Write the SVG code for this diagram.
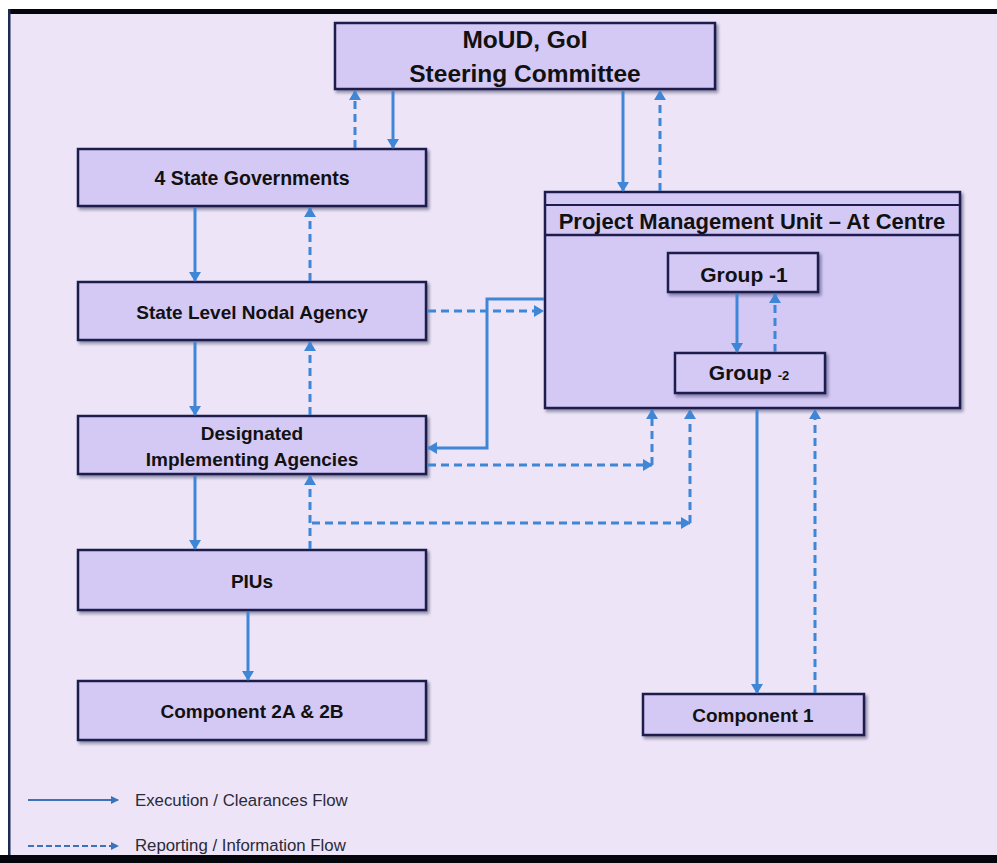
<svg xmlns="http://www.w3.org/2000/svg" width="997" height="863" viewBox="0 0 997 863">
<defs>
  <marker id="ah" markerUnits="userSpaceOnUse" markerWidth="10" markerHeight="12" refX="9" refY="6" orient="auto">
    <path d="M0,0 L10,6 L0,12 z" fill="#3F86D6"/>
  </marker>
  <marker id="ahs" markerUnits="userSpaceOnUse" markerWidth="8" markerHeight="8" refX="7" refY="4" orient="auto">
    <path d="M0,0 L8,4 L0,8 z" fill="#3B72B8"/>
  </marker>
  <filter id="sh" x="-5%" y="-10%" width="115%" height="130%">
    <feDropShadow dx="2" dy="2.5" stdDeviation="1.5" flood-color="#1a1440" flood-opacity="0.45"/>
  </filter>
</defs>
<style>
  .box { fill: #D4C9F5; stroke: #1E1C4E; stroke-width: 2.5; filter: url(#sh); }
  .t { font-family: "Liberation Sans", Arial, sans-serif; font-weight: bold; fill: #111; text-anchor: middle; }
  .s { stroke: #3F86D6; stroke-width: 3; fill: none; }
  .d { stroke: #3F86D6; stroke-width: 3; fill: none; stroke-dasharray: 8 5; }
  .lg { font-family: "Liberation Sans", Arial, sans-serif; font-size: 16.8px; fill: #2a2a3a; }
</style>
<rect x="0" y="0" width="997" height="863" fill="#EDE5F7"/>
<rect x="0" y="0" width="997" height="9" fill="#ffffff"/>
<rect x="0" y="0" width="8" height="863" fill="#ffffff"/>
<rect x="8" y="9" width="989" height="5" fill="#05060c"/>
<rect x="8" y="9" width="2.5" height="850" fill="#1a2a50"/>
<rect x="0" y="855" width="997" height="8" fill="#05060c"/>

<g id="moud">
  <rect class="box" x="335" y="23" width="380" height="66"/>
  <text class="t" x="525" y="48" font-size="24.5">MoUD, GoI</text>
  <text class="t" x="525" y="82" font-size="24.5">Steering Committee</text>
</g>
<g id="state-governments">
  <rect class="box" x="78" y="149" width="348" height="57"/>
  <text class="t" x="252" y="185" font-size="19.5">4 State Governments</text>
</g>
<g id="slna">
  <rect class="box" x="78" y="282" width="348" height="58"/>
  <text class="t" x="252" y="319" font-size="19">State Level Nodal Agency</text>
</g>
<g id="dia">
  <rect class="box" x="78" y="416" width="348" height="58"/>
  <text class="t" x="252" y="440" font-size="19">Designated</text>
  <text class="t" x="252" y="466" font-size="19">Implementing Agencies</text>
</g>
<g id="pius">
  <rect class="box" x="78" y="550" width="348" height="60"/>
  <text class="t" x="252" y="588" font-size="19">PIUs</text>
</g>
<g id="component-2">
  <rect class="box" x="78" y="681" width="348" height="59"/>
  <text class="t" x="252" y="718" font-size="19">Component 2A &amp; 2B</text>
</g>
<g id="pmu">
  <rect class="box" x="545" y="192" width="415" height="216"/>
  <line x1="545" y1="205" x2="960" y2="205" stroke="#1E1C4E" stroke-width="2"/>
  <line x1="545" y1="235" x2="960" y2="235" stroke="#1E1C4E" stroke-width="2.5"/>
  <text class="t" x="752" y="229" font-size="22">Project Management Unit – At Centre</text>
</g>
<g id="group-1">
  <rect class="box" x="668" y="253" width="150" height="39"/>
  <text class="t" x="744" y="282" font-size="21">Group -1</text>
</g>
<g id="group-2">
  <rect class="box" x="675" y="353" width="150" height="40"/>
  <text class="t" x="749" y="380" font-size="21">Group <tspan font-size="13">-2</tspan></text>
</g>
<g id="component-1">
  <rect class="box" x="643" y="694" width="221" height="41"/>
  <text class="t" x="753" y="722" font-size="19">Component 1</text>
</g>

<g id="connectors">
  <line class="s" x1="393" y1="91" x2="393" y2="148" marker-end="url(#ah)"/>
  <line class="d" x1="355" y1="148" x2="355" y2="91" marker-end="url(#ah)"/>
  <line class="s" x1="195" y1="208" x2="195" y2="281" marker-end="url(#ah)"/>
  <line class="d" x1="310" y1="281" x2="310" y2="208" marker-end="url(#ah)"/>
  <line class="s" x1="195" y1="342" x2="195" y2="415" marker-end="url(#ah)"/>
  <line class="d" x1="310" y1="415" x2="310" y2="342" marker-end="url(#ah)"/>
  <line class="s" x1="195" y1="476" x2="195" y2="549" marker-end="url(#ah)"/>
  <line class="d" x1="310" y1="549" x2="310" y2="476" marker-end="url(#ah)"/>
  <line class="d" x1="312" y1="523" x2="690" y2="523" marker-end="url(#ah)"/>
  <line class="d" x1="690" y1="523" x2="690" y2="410" marker-end="url(#ah)"/>
  <line class="s" x1="248" y1="612" x2="248" y2="680" marker-end="url(#ah)"/>
  <line class="s" x1="623" y1="91" x2="623" y2="191" marker-end="url(#ah)"/>
  <line class="d" x1="660" y1="191" x2="660" y2="91" marker-end="url(#ah)"/>
  <line class="d" x1="428" y1="311" x2="543" y2="311" marker-end="url(#ah)"/>
  <polyline class="s" points="544,299 487,299 487,448 428,448" marker-end="url(#ah)"/>
  <line class="d" x1="428" y1="465" x2="652" y2="465" marker-end="url(#ah)"/>
  <line class="d" x1="652" y1="465" x2="652" y2="410" marker-end="url(#ah)"/>
  <line class="s" x1="737" y1="294" x2="737" y2="352" marker-end="url(#ah)"/>
  <line class="d" x1="775" y1="352" x2="775" y2="294" marker-end="url(#ah)"/>
  <line class="s" x1="757" y1="410" x2="757" y2="693" marker-end="url(#ah)"/>
  <line class="d" x1="815" y1="693" x2="815" y2="410" marker-end="url(#ah)"/>
</g>

<g id="legend">
  <line x1="28" y1="800" x2="118" y2="800" stroke="#3B72B8" stroke-width="2" marker-end="url(#ahs)"/>
  <text class="lg" x="135" y="806">Execution / Clearances Flow</text>
  <line x1="28" y1="846" x2="118" y2="846" stroke="#3B72B8" stroke-width="2" stroke-dasharray="6 3" marker-end="url(#ahs)"/>
  <text class="lg" x="135" y="851">Reporting / Information Flow</text>
</g>
</svg>
